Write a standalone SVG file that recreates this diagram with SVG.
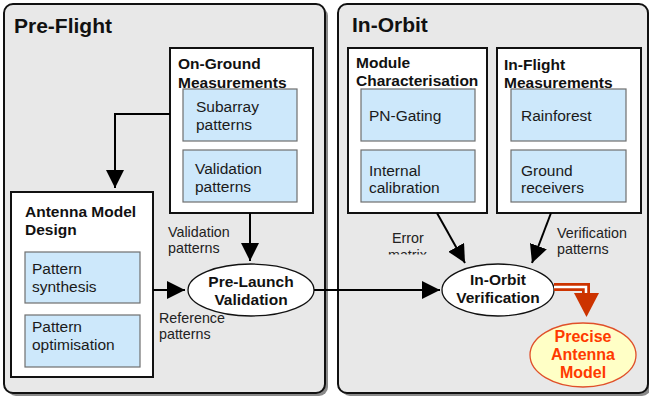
<svg xmlns="http://www.w3.org/2000/svg" width="649" height="398" viewBox="0 0 649 398">
  <style>
    .panel { fill: #e8e8e8; stroke: #111; stroke-width: 2; }
    .shadow { fill: #8a8a8a; }
    .group { fill: #fff; stroke: #111; stroke-width: 2; }
    .item { fill: #cde8fb; stroke: #6f6f6f; stroke-width: 1.2; }
    .oval { fill: #fff; stroke: #111; stroke-width: 1.3; }
    .title { font-family: "Liberation Sans", Arial, sans-serif; font-weight: bold; font-size: 21px; fill: #111; }
    .head { font-family: "Liberation Sans", Arial, sans-serif; font-weight: bold; font-size: 15.5px; fill: #111; }
    .txt { font-family: "Liberation Sans", Arial, sans-serif; font-size: 15.5px; fill: #1a1a1a; }
    .lbl { font-family: "Liberation Sans", Arial, sans-serif; font-size: 14.3px; fill: #222; }
    .ctr { text-anchor: middle; }
    .wire { fill: none; stroke: #000; stroke-width: 2; }
  </style>
  <defs>
    <marker id="arrow" markerUnits="userSpaceOnUse" markerWidth="18" markerHeight="18" viewBox="0 0 16 16" refX="16" refY="8" orient="auto">
      <path d="M0,0 L16,8 L0,16 Z" fill="#000"/>
    </marker>
    <clipPath id="errClip">
      <rect x="380" y="225" width="60" height="29.5"/>
    </clipPath>
  </defs>

  <!-- Pre-Flight panel -->
  <g id="pre-flight">
    <rect class="shadow" x="7" y="7" width="321" height="389" rx="9"/>
    <rect class="panel" x="4" y="4" width="321" height="389" rx="9"/>
    <text class="title" x="14" y="33">Pre-Flight</text>
  </g>

  <!-- In-Orbit panel -->
  <g id="in-orbit">
    <rect class="shadow" x="341" y="7" width="310" height="389" rx="9"/>
    <rect class="panel" x="338" y="4" width="310" height="389" rx="9"/>
    <text class="title" x="352" y="32">In-Orbit</text>
  </g>

  <!-- On-Ground Measurements -->
  <g id="on-ground">
    <rect class="group" x="170" y="48" width="143" height="165"/>
    <text class="head" x="178" y="69">On-Ground</text>
    <text class="head" x="178" y="88">Measurements</text>
    <rect class="item" x="183" y="89" width="114" height="52"/>
    <text class="txt" x="196" y="112">Subarray</text>
    <text class="txt" x="196" y="130">patterns</text>
    <rect class="item" x="183" y="150" width="114" height="52"/>
    <text class="txt" x="195" y="174">Validation</text>
    <text class="txt" x="195" y="192">patterns</text>
  </g>

  <!-- Antenna Model Design -->
  <g id="antenna-model">
    <rect class="group" x="11" y="192" width="142" height="185"/>
    <text class="head" x="25" y="217">Antenna Model</text>
    <text class="head" x="25" y="235">Design</text>
    <rect class="item" x="25" y="252" width="115" height="51"/>
    <text class="txt" x="32" y="274">Pattern</text>
    <text class="txt" x="32" y="292">synthesis</text>
    <rect class="item" x="25" y="315" width="115" height="52"/>
    <text class="txt" x="32" y="332">Pattern</text>
    <text class="txt" x="32" y="350">optimisation</text>
  </g>

  <!-- Module Characterisation -->
  <g id="module-char">
    <rect class="group" x="348" y="48" width="139" height="165"/>
    <text class="head" x="356" y="68">Module</text>
    <text class="head" x="356" y="86">Characterisation</text>
    <rect class="item" x="361" y="89" width="114" height="52"/>
    <text class="txt" x="369" y="121">PN-Gating</text>
    <rect class="item" x="361" y="150" width="114" height="52"/>
    <text class="txt" x="369" y="176">Internal</text>
    <text class="txt" x="369" y="193">calibration</text>
  </g>

  <!-- In-Flight Measurements -->
  <g id="in-flight">
    <rect class="group" x="497" y="48" width="144" height="165"/>
    <text class="head" x="504" y="70">In-Flight</text>
    <text class="head" x="504" y="88">Measurements</text>
    <rect class="item" x="511" y="89" width="115" height="52"/>
    <text class="txt" x="521" y="121">Rainforest</text>
    <rect class="item" x="511" y="150" width="115" height="52"/>
    <text class="txt" x="521" y="176">Ground</text>
    <text class="txt" x="521" y="193">receivers</text>
  </g>

  <!-- Pre-Launch Validation -->
  <g id="pre-launch">
    <ellipse class="oval" cx="251" cy="290" rx="63" ry="26"/>
    <text class="head ctr" x="251" y="287">Pre-Launch</text>
    <text class="head ctr" x="251" y="305">Validation</text>
  </g>

  <!-- In-Orbit Verification -->
  <g id="in-orbit-verification">
    <ellipse class="oval" cx="498" cy="290" rx="56" ry="26"/>
    <text class="head ctr" x="498" y="285">In-Orbit</text>
    <text class="head ctr" x="498" y="303">Verification</text>
  </g>

  <!-- Precise Antenna Model -->
  <g id="precise-model">
    <ellipse cx="583" cy="355" rx="53" ry="32" fill="#ffffc6" stroke="#e0502a" stroke-width="1.3"/>
    <text class="head ctr" x="583" y="342" style="fill:#ff3a00;font-size:16px">Precise</text>
    <text class="head ctr" x="583" y="360" style="fill:#ff3a00;font-size:16px">Antenna</text>
    <text class="head ctr" x="583" y="378" style="fill:#ff3a00;font-size:16px">Model</text>
  </g>

  <!-- Connectors -->
  <g id="connectors">
    <path class="wire" d="M170,114 H115 V188" marker-end="url(#arrow)"/>
    <path class="wire" d="M250,213 V261" marker-end="url(#arrow)"/>
    <path class="wire" d="M153,290 H185" marker-end="url(#arrow)"/>
    <path class="wire" d="M314,290 H440" marker-end="url(#arrow)"/>
    <path class="wire" d="M437,213 L465,263" marker-end="url(#arrow)"/>
    <path class="wire" d="M551,213 L532,263" marker-end="url(#arrow)"/>

    <!-- hollow red result arrow -->
    <path d="M554,287 H586 V294" fill="none" stroke="#cc3300" stroke-width="8"/>
    <path d="M554,287 H586 V294" fill="none" stroke="#fff" stroke-width="2.5"/>
    <path d="M574,293 L599,293 L586.5,317 Z" fill="#cc3300"/>

    <text class="lbl" x="168" y="237">Validation</text>
    <text class="lbl" x="168" y="253">patterns</text>
    <text class="lbl" x="159" y="323">Reference</text>
    <text class="lbl" x="159" y="339">patterns</text>
    <g clip-path="url(#errClip)">
      <text class="lbl" x="392" y="243">Error</text>
      <text class="lbl" x="388" y="260">matrix</text>
    </g>
    <text class="lbl" x="557" y="238">Verification</text>
    <text class="lbl" x="557" y="254">patterns</text>
  </g>
</svg>
